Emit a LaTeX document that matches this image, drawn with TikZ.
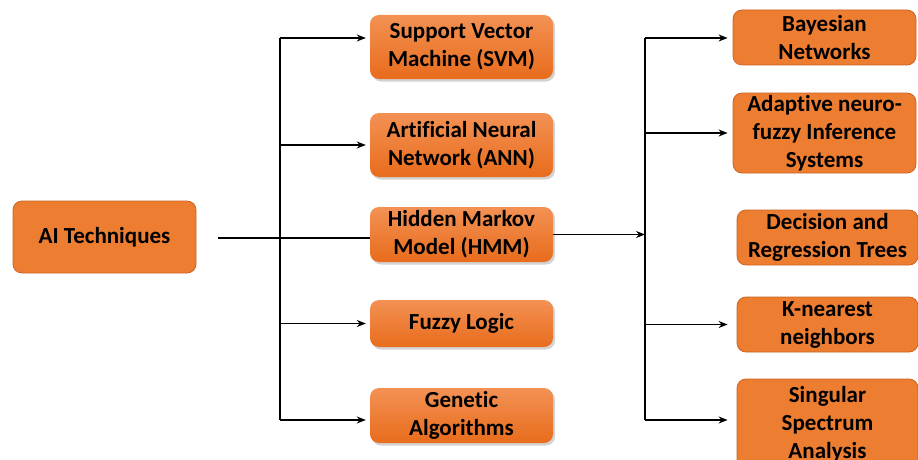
\documentclass[tikz,border=0pt]{standalone}
\usepackage{fontspec}
\setmainfont{Carlito}[Ligatures={NoCommon,NoRare,NoDiscretionary}]
\usetikzlibrary{shadows,arrows.meta}
\definecolor{boxorange}{RGB}{237,125,49}
\definecolor{boxedge}{RGB}{205,100,35}
\definecolor{gradtop}{RGB}{243,145,84}
\definecolor{gradbot}{RGB}{232,108,28}
\tikzset{
  x=1pt, y=-1pt,
  techbox/.style = {align=center, rounded corners=9pt, inner sep=0pt, text centered,
    font=\fontsize{23}{28}\selectfont\bfseries},
  flat_box/.style = {techbox, fill=boxorange, draw=boxedge, line width=0.8pt, minimum width=183pt},
  grad_box/.style = {techbox, top color=gradtop, bottom color=gradbot, minimum width=183pt,
    drop shadow={opacity=0.35, shadow xshift=2pt, shadow yshift=-2.5pt}},
  wire/.style = {line width=1.3pt},
  link/.style = {wire, -{Stealth[length=9pt,width=7pt]}}
}

\begin{document}
\begin{tikzpicture}
\useasboundingbox (0,0) rectangle (918,460);
\clip (0,0) rectangle (918,460);

% source
\node [flat_box, minimum height=72pt] (ai) at (104.5,237) {AI Techniques};

% middle column
\node [grad_box, minimum height=64pt] (svm)   at (461.5,47)    {Support Vector\\Machine (SVM)};
\node [grad_box, minimum height=64pt] (ann)   at (461.5,145)   {Artificial Neural\\Network (ANN)};
\node [grad_box, minimum height=55pt] (hmm)   at (461.5,234.5) {Hidden Markov\\Model (HMM)};
\node [grad_box, minimum height=47pt] (fuzzy) at (461.5,323.5) {Fuzzy Logic};
\node [grad_box, minimum height=55pt] (gen)   at (461.5,415.5) {Genetic\\Algorithms};

% right column
\node [flat_box, minimum height=55pt] (bayes) at (824.5,37.5) {Bayesian\\Networks};
\node [flat_box, minimum height=80pt] (anfis) at (824.5,133)  {Adaptive neuro-\\fuzzy Inference\\Systems};
\node [flat_box, minimum height=55pt, minimum width=181pt] (dtree) at (827.5,237.5) {Decision and\\Regression Trees};
\node [flat_box, minimum height=55pt, minimum width=181pt] (knn)   at (827.5,324.5) {K-nearest\\neighbors};
\node [flat_box, minimum height=90pt, minimum width=181pt] (ssa)   at (827.5,424)   {Singular\\Spectrum\\Analysis};

% left trunk
\coordinate (lt) at (280,38);
\coordinate (lb) at (280,420);
\draw [wire] (lt) -- (lb);
\draw [wire] ([xshift=22pt]ai.east |- 0,238) -- (hmm.west |- 0,238);
\draw [link, shorten >=4pt] (lt) -- (lt -| svm.west);
\draw [link, shorten >=4pt] (lt |- ann) -- (ann.west);
\draw [link, shorten >=4pt] (lt |- fuzzy) -- (fuzzy.west);
\draw [link, shorten >=4pt] (lb) -- (lb -| gen.west);

% right trunk
\coordinate (rt) at (645,38);
\coordinate (rb) at (645,420);
\draw [wire] (rt) -- (rb);
\draw [link] (hmm.east) -- (hmm.east -| rt);
\draw [link, shorten >=5pt] (rt) -- (rt -| bayes.west);
\draw [link, shorten >=5pt] (rt |- anfis) -- (anfis.west);
\draw [link, shorten >=9pt] (rt |- knn) -- (knn.west);
\draw [link, shorten >=9pt] (rb) -- (rb -| ssa.west);
\end{tikzpicture}
\end{document}
